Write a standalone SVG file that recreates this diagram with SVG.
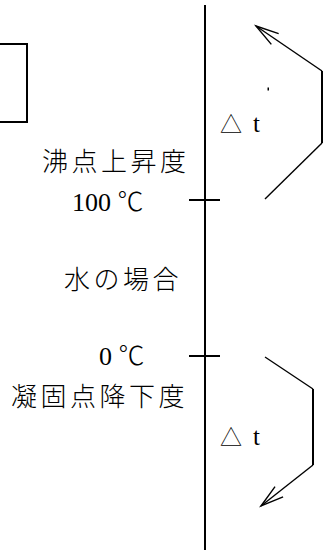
<svg xmlns="http://www.w3.org/2000/svg" width="331" height="552" viewBox="0 0 331 552">
<style>
.lbl{font-family:"Liberation Serif","Noto Sans CJK JP",serif;font-size:26px;fill:#000;font-weight:300}
.cjk{letter-spacing:3.5px}
.dt{font-family:"Liberation Serif","Noto Sans CJK JP",serif;font-size:22px;fill:#000;font-weight:300}
.tt{font-size:25px}
.thick{stroke:#000;stroke-width:2;fill:none}
.thin{stroke:#000;stroke-width:1.4;fill:none}
</style>
<defs>
<marker id="open" markerUnits="userSpaceOnUse" markerWidth="40" markerHeight="40" refX="0" refY="0" orient="auto" overflow="visible">
<path d="M-23,-6.5 L0,0 L-23,6.5" stroke="#000" stroke-width="1.4" fill="none"/>
</marker>
</defs>
<rect width="331" height="552" fill="#fff"/>
<g id="box"><rect x="-5" y="44" width="32" height="78" class="thick"/></g>
<g id="axis">
<line x1="205" y1="5" x2="205" y2="550" class="thick"/>
<line x1="189" y1="200" x2="220" y2="200" class="thick"/>
<line x1="189" y1="356" x2="220" y2="356" class="thick"/>
</g>
<g id="connectors">
<path d="M265,199 L322,143" class="thin"/>
<path d="M322,143 L322,71" class="thick"/>
<path d="M322,71 L256,26" class="thin" marker-end="url(#open)"/>
<path d="M265,357 L313,389" class="thin"/>
<path d="M313,389 L313,465" class="thick"/>
<path d="M313,465 L261,506" class="thin" marker-end="url(#open)"/>
<rect x="267.5" y="87.5" width="1.5" height="3" fill="#000"/>
</g>
<g id="label-boil"><text x="42" y="171" class="lbl cjk">沸点上昇度</text></g>
<g id="label-100"><text x="72" y="211" class="lbl">100 ℃</text></g>
<g id="label-water"><text x="64" y="289" class="lbl cjk">水の場合</text></g>
<g id="label-0"><text x="99" y="365" class="lbl">0 ℃</text></g>
<g id="label-freeze"><text x="11" y="406" class="lbl cjk">凝固点降下度</text></g>
<g id="dt-up"><text y="132" class="dt"><tspan x="220">△</tspan><tspan x="253" class="tt">t</tspan></text></g>
<g id="dt-down"><text y="445" class="dt"><tspan x="220">△</tspan><tspan x="253" class="tt">t</tspan></text></g>
</svg>
